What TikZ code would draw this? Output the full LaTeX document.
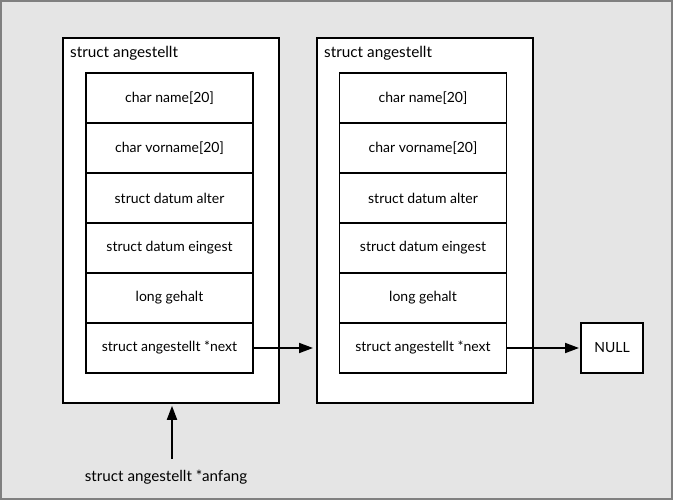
\documentclass[tikz,border=0pt]{standalone}
\usepackage{fontspec}
\setmainfont{Lato}
\usepackage{tikz}
\usetikzlibrary{positioning,arrows.meta}

\begin{document}
\begin{tikzpicture}[x=1pt,y=-1pt,
    field/.style={rectangle, draw, line width=1.6pt, fill=white, outer sep=0pt,
      minimum width=167pt, minimum height=50pt, font=\fontsize{14}{16}\selectfont},
    record/.style={rectangle, draw, line width=1.6pt, fill=white,
      minimum width=216pt, minimum height=365pt},
    title/.style={anchor=north west, inner sep=0pt, font=\fontsize{15.3}{18}\selectfont},
    ptr/.style={-{Triangle[length=14pt,width=10pt]}, line width=1.8pt}]
  % background and frame
  \fill[gray!20] (0,0) rectangle (673,500);
  \draw[black!50, line width=2pt] (1,1) rectangle (672,499);
  % first record
  \node[record] (rec1) at (171,220.5) {};
  \node[title] (t1) at (70,46.5) {struct angestellt};
  \node[field] (a1) at (169.5,98) {char name[20]};
  \node[field] (a2) [below=0pt of a1] {char vorname[20]};
  \node[field] (a3) [below=0pt of a2] {struct datum alter};
  \node[field] (a4) [below=0pt of a3] {struct datum eingest};
  \node[field] (a5) [below=0pt of a4] {long gehalt};
  \node[field] (a6) [below=0pt of a5] {struct angestellt *next};
  % second record
  \node[record] (rec2) at (425,220.5) {};
  \node[title] (t2) at (324,46.5) {struct angestellt};
  \node[field] (b1) at (423,98) {char name[20]};
  \node[field] (b2) [below=0pt of b1] {char vorname[20]};
  \node[field] (b3) [below=0pt of b2] {struct datum alter};
  \node[field] (b4) [below=0pt of b3] {struct datum eingest};
  \node[field] (b5) [below=0pt of b4] {long gehalt};
  \node[field] (b6) [below=0pt of b5] {struct angestellt *next};
  % end of list
  \node[field, minimum width=62pt, minimum height=50pt] (null) at (612,348) {NULL};
  \node[font=\fontsize{15.2}{18}\selectfont] (anfang) at (166,477) {struct angestellt *anfang};
  \coordinate (tip1) at (313,348);
  \coordinate (tail) at (172,459);
  \draw[ptr] (a6.east) -- (tip1);
  \draw[ptr, shorten >=2pt] (b6.east) -- (null.west);
  \draw[ptr, shorten >=2pt] (tail) -- (tail |- rec1.south);
\end{tikzpicture}
\end{document}
